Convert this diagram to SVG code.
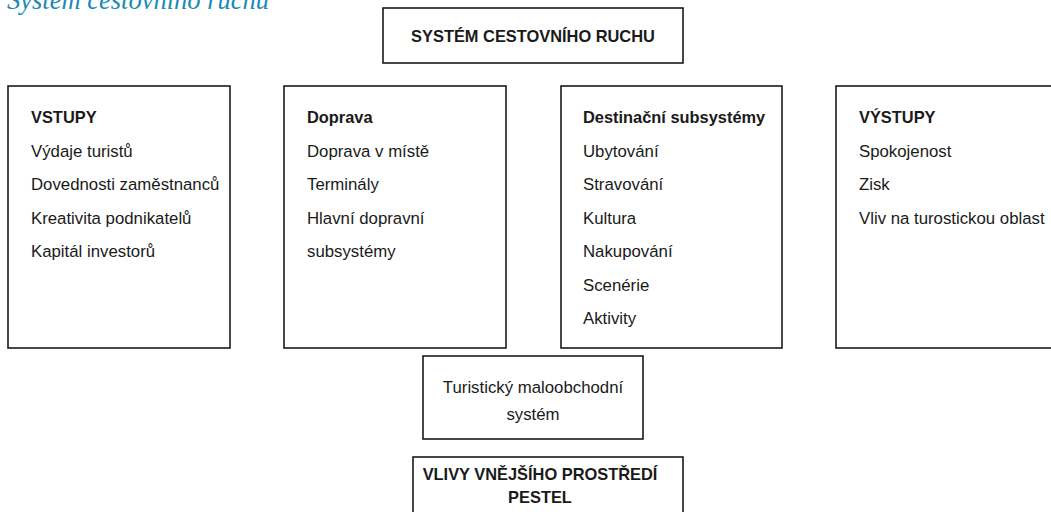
<svg xmlns="http://www.w3.org/2000/svg" width="1051" height="512" viewBox="0 0 1051 512">
  <style>
    .box { fill: #ffffff; stroke: #1a1a1a; stroke-width: 1.6; }
    .t { font-family: "Liberation Sans", Arial, sans-serif; font-size: 16.8px; fill: #1a1a1a; }
    .b { font-weight: bold; font-size: 16.4px; }
    .c { text-anchor: middle; }
    .title { font-family: "Liberation Serif", "Times New Roman", serif; font-style: italic; font-size: 26.5px; fill: #1a8ab6; }
  </style>
  <rect width="1051" height="512" fill="#ffffff"/>
  <text class="title" x="7" y="9">Systém cestovního ruchu</text>

  <g id="system">
    <rect class="box" x="383" y="8" width="300" height="55"/>
    <text class="t b c" x="533" y="42">SYSTÉM CESTOVNÍHO RUCHU</text>
  </g>

  <g id="vstupy">
    <rect class="box" x="8" y="86" width="222" height="262"/>
    <text class="t b" x="31" y="123">VSTUPY</text>
    <text class="t" x="31" y="157">Výdaje turistů</text>
    <text class="t" x="31" y="190">Dovednosti zaměstnanců</text>
    <text class="t" x="31" y="224">Kreativita podnikatelů</text>
    <text class="t" x="31" y="257">Kapitál investorů</text>
  </g>

  <g id="doprava">
    <rect class="box" x="284" y="86" width="222" height="262"/>
    <text class="t b" x="307" y="123">Doprava</text>
    <text class="t" x="307" y="157">Doprava v místě</text>
    <text class="t" x="307" y="190">Terminály</text>
    <text class="t" x="307" y="224">Hlavní dopravní</text>
    <text class="t" x="307" y="257">subsystémy</text>
  </g>

  <g id="destinace">
    <rect class="box" x="561" y="86" width="221" height="262"/>
    <text class="t b" x="583" y="123">Destinační subsystémy</text>
    <text class="t" x="583" y="157">Ubytování</text>
    <text class="t" x="583" y="190">Stravování</text>
    <text class="t" x="583" y="224">Kultura</text>
    <text class="t" x="583" y="257">Nakupování</text>
    <text class="t" x="583" y="291">Scenérie</text>
    <text class="t" x="583" y="324">Aktivity</text>
  </g>

  <g id="vystupy">
    <rect class="box" x="836" y="86" width="240" height="262"/>
    <text class="t b" x="859" y="123">VÝSTUPY</text>
    <text class="t" x="859" y="157">Spokojenost</text>
    <text class="t" x="859" y="190">Zisk</text>
    <text class="t" x="859" y="224">Vliv na turostickou oblast</text>
  </g>

  <g id="maloobchod">
    <rect class="box" x="423" y="356" width="220" height="83"/>
    <text class="t c" x="533" y="393">Turistický maloobchodní</text>
    <text class="t c" x="533" y="420">systém</text>
  </g>

  <g id="vlivy">
    <rect class="box" x="413" y="457" width="270" height="80"/>
    <text class="t b c" x="540" y="480">VLIVY VNĚJŠÍHO PROSTŘEDÍ</text>
    <text class="t b c" x="540" y="503">PESTEL</text>
  </g>

  <g id="connectors"></g>
</svg>
